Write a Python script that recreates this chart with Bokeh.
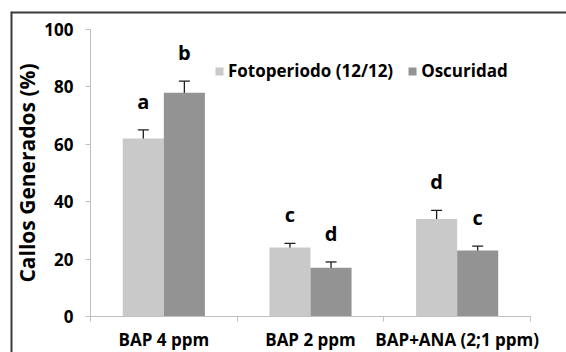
from bokeh.plotting import figure
from bokeh.models import (ColumnDataSource, FixedTicker, Whisker, TeeHead, Legend, LegendItem,
                          Range1d, Span)
from bokeh.core.properties import value
from bokeh.embed import file_html
from bokeh.resources import INLINE

categories = ["BAP 4 ppm", "BAP 2 ppm", "BAP+ANA (2;1 ppm)"]
series_names = ["Fotoperiodo (12/12)", "Oscuridad"]
foto_vals = [62, 24, 34]
foto_err = [3, 1.5, 3]
foto_letters = ["a", "c", "d"]
osc_vals = [78, 17, 23]
osc_err = [4, 2, 1.5]
osc_letters = ["b", "d", "c"]
y_ticks = [0, 20, 40, 60, 80, 100]

FONT = "Open Sans"
LIGHT = "#c9c9c9"
DARK = "#939393"
AXIS = "#bfbfbf"
BORDER = "#3a3a3a"

bar_w = 0.28
n = len(categories)
centers = [i + 0.5 for i in range(n)]

# Layout (pixels): the frame is the bordered chart area; the axes sit inside it.
W, H = 566, 352
FL, FT = 10, 11                      # frame left / top (border position)
AX_L, AX_R, AX_T, AX_B = 90, 530, 29, 316   # where the value axes run
px_x = (AX_R - AX_L) / n
px_y = (AX_B - AX_T) / 100.0
x_range = Range1d((FL - AX_L) / px_x, (W - AX_L) / px_x)
y_range = Range1d(-(H - AX_B) / px_y, 100 + (AX_T - FT) / px_y)

p = figure(width=W, height=H, output_backend="svg", toolbar_location=None,
           x_range=x_range, y_range=y_range,
           min_border_left=FL, min_border_right=0, min_border_top=FT, min_border_bottom=0)
p.outline_line_color = None
p.xgrid.visible = False
p.ygrid.visible = False
p.background_fill_color = "white"
p.border_fill_color = "white"

# border of the chart area (left and top edges)
p.add_layout(Span(location=x_range.start, dimension="height", line_color=BORDER, line_width=4))
p.add_layout(Span(location=y_range.end, dimension="width", line_color=BORDER, line_width=4))

LETTER_GAP = 10  # value units between error-bar top and letter baseline

def make_src(vals, errs, letters, shift):
    xs = [c + shift for c in centers]
    return ColumnDataSource(dict(
        x=xs, top=vals,
        upper=[v + e for v, e in zip(vals, errs)],
        lower=[v - e for v, e in zip(vals, errs)],
        letter=letters,
        ly=[v + e + LETTER_GAP for v, e in zip(vals, errs)],
    ))

src_f = make_src(foto_vals, foto_err, foto_letters, -bar_w / 2)
src_o = make_src(osc_vals, osc_err, osc_letters, bar_w / 2)

r_f = p.vbar(x="x", top="top", width=bar_w, source=src_f, fill_color=LIGHT, line_color=None)
r_o = p.vbar(x="x", top="top", width=bar_w, source=src_o, fill_color=DARK, line_color=None)

for src in (src_f, src_o):
    w = Whisker(source=src, base="x", upper="upper", lower="lower", dimension="height",
                line_color="#1e1e1e", line_width=1.3,
                upper_head=TeeHead(size=11, line_color="#1e1e1e", line_width=1.3),
                lower_head=TeeHead(size=11, line_color="#1e1e1e", line_width=1.3))
    p.add_layout(w)
    p.text(x="x", y="ly", text="letter", source=src, text_align="center",
           text_baseline="alphabetic", text_font=value(FONT), text_font_size="20px",
           text_font_style="bold", text_color="black")

ya = p.yaxis[0]
ya.fixed_location = 0
ya.bounds = (0, 100)
ya.ticker = FixedTicker(ticks=y_ticks, minor_ticks=[])
ya.axis_line_color = AXIS
ya.major_tick_line_color = AXIS
ya.major_tick_out = 5
ya.major_tick_in = 0
ya.major_label_standoff = 12
ya.major_label_text_font = FONT
ya.major_label_text_font_size = "17px"
ya.major_label_text_font_style = "bold"
ya.major_label_text_color = "black"
ya.axis_label = "Callos Generados (%)"
ya.axis_label_text_font = FONT
ya.axis_label_text_font_size = "21px"
ya.axis_label_text_font_style = "bold"
ya.axis_label_text_color = "black"
ya.axis_label_standoff = 0

xa = p.xaxis[0]
xa.fixed_location = 0
xa.bounds = (0, n)
xa.ticker = FixedTicker(ticks=centers, minor_ticks=[float(i) for i in range(n + 1)])
xa.major_label_overrides = {c: lab for c, lab in zip(centers, categories)}
xa.axis_line_color = AXIS
xa.major_tick_line_color = None
xa.minor_tick_line_color = AXIS
xa.minor_tick_out = 5
xa.minor_tick_in = 0
xa.major_label_standoff = 5
xa.major_label_text_font = FONT
xa.major_label_text_font_size = "17px"
xa.major_label_text_font_style = "bold"
xa.major_label_text_color = "black"

legend = Legend(items=[LegendItem(label=series_names[0], renderers=[r_f]),
                       LegendItem(label=series_names[1], renderers=[r_o])],
                orientation="horizontal", location=(214 - FL, H - 70 - 12),
                glyph_width=10, glyph_height=10, label_standoff=4, spacing=14,
                padding=0, margin=0, border_line_color=None, background_fill_alpha=0,
                label_text_font=FONT, label_text_font_size="17px",
                label_text_font_style="bold", label_text_color="black")
p.add_layout(legend)

open("out.html", "w").write(file_html(p, INLINE))
